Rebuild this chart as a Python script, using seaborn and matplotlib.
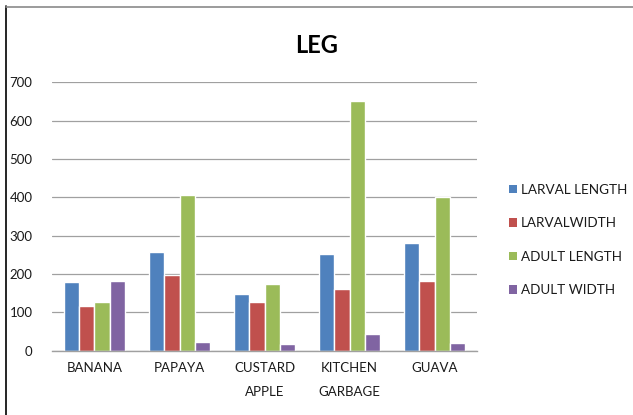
import matplotlib
matplotlib.use("Agg")
import matplotlib.pyplot as plt
from matplotlib.lines import Line2D
from matplotlib.patches import Patch
import pandas as pd
import seaborn as sns

categories = ["BANANA", "PAPAYA", "CUSTARD\nAPPLE", "KITCHEN\nGARBAGE", "GUAVA"]
series_names = ["LARVAL LENGTH", "LARVALWIDTH", "ADULT LENGTH", "ADULT WIDTH"]
larval_length = [180, 258, 149, 251, 282]
larval_width = [117, 197, 126, 160, 182]
adult_length = [126, 405, 175, 650, 401]
adult_width = [182, 23, 18, 43, 19]
y_ticks = [0, 100, 200, 300, 400, 500, 600, 700]
colors = ["#4F81BD", "#C0504D", "#9BBB59", "#8064A2"]

rows = []
for name, vals in zip(series_names,
                      [larval_length, larval_width, adult_length, adult_width]):
    for cat, v in zip(categories, vals):
        rows.append({"category": cat, "series": name, "value": v})
df = pd.DataFrame(rows)

sns.set_style("white")
plt.rcParams["font.family"] = ["Lato", "DejaVu Sans"]
plt.rcParams["text.color"] = "#1a1a1a"
plt.rcParams["xtick.color"] = "#1a1a1a"
plt.rcParams["ytick.color"] = "#1a1a1a"

fig = plt.figure(figsize=(6.33, 4.15), dpi=100)
ax = fig.add_axes([0.082, 0.155, 0.672, 0.647])

sns.barplot(data=df, x="category", y="value", hue="series",
            order=categories, hue_order=series_names,
            palette=colors, width=0.72, gap=0, saturation=1,
            ax=ax, legend=False)

ax.set_ylim(0, 700)
ax.set_yticks(y_ticks)
ax.set_yticklabels([str(t) for t in y_ticks], fontsize=9.5)
ax.set_xlim(-0.5, len(categories) - 0.5)
ax.tick_params(axis="y", length=0, pad=14)
ax.tick_params(axis="x", length=0, pad=8)
for lbl in ax.get_xticklabels():
    lbl.set_fontsize(9.5)
    lbl.set_linespacing(2.25)
ax.set_xlabel("")
ax.set_ylabel("")
ax.yaxis.grid(True, color="#A0A0A0", linewidth=0.9)
ax.set_axisbelow(True)
for s in ["top", "right", "left"]:
    ax.spines[s].set_visible(False)
ax.spines["bottom"].set_color("#A0A0A0")
ax.spines["bottom"].set_linewidth(1.0)

fig.text(0.5, 0.89, "LEG", ha="center", va="center",
         fontsize=17, fontweight="bold", color="black")

handles = [Patch(facecolor=c, edgecolor="none") for c in colors]
fig.legend(handles, series_names, loc="center left",
           bbox_to_anchor=(0.785, 0.422), frameon=False, fontsize=9.7,
           handlelength=0.6, handleheight=0.6, handletextpad=0.3,
           labelspacing=1.6)

# frame lines along the left and top edges
fig.add_artist(Line2D([0.009, 0.009], [0, 0.985], transform=fig.transFigure,
                      color="black", linewidth=1.2))
fig.add_artist(Line2D([0.009, 1.0], [0.983, 0.983], transform=fig.transFigure,
                      color="#8A8A8A", linewidth=1.2))

fig.savefig("out.png", dpi=100)
